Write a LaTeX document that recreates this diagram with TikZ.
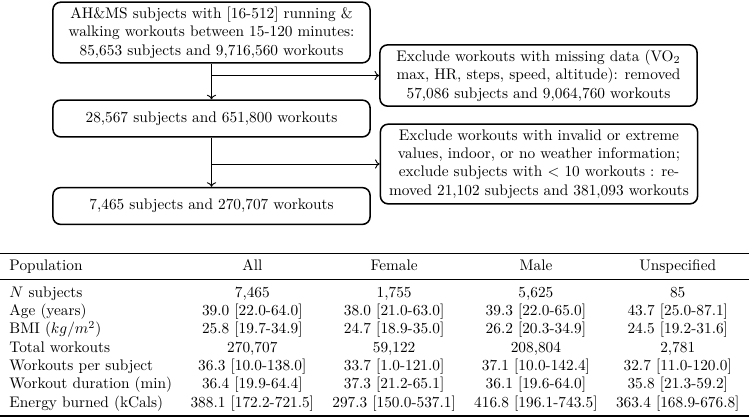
\documentclass[tikz,border=0pt]{standalone}
\usepackage{amsmath}
\usepackage{booktabs}
\usepackage{tikz}
\usetikzlibrary{arrows.meta,positioning}

\begin{document}
\begin{tikzpicture}[
        x=0.6527pt, y=-0.6527pt,
        flowbox/.style={rectangle, draw=black, line width=1pt, rounded corners=5pt, minimum width=207pt, align=center, inner sep=3pt},
        arr/.style={-{To[length=3pt,width=6pt]}, semithick},
    ]
    \useasboundingbox (0,0) rectangle (750,417);

    % flow of subjects and workouts
    \node[flowbox, minimum height=39pt] (b1) at (211.5,32.5) {AH\&MS subjects with [16-512] running \&\\walking workouts between 15-120 minutes:\\85,653 subjects and 9,716,560 workouts};
    \node[flowbox, minimum height=40pt] (e1) at (538.5,75.5) {Exclude workouts with missing data (VO$_2$\\max, HR, steps, speed, altitude): removed\\57,086 subjects and 9,064,760 workouts};
    \node[flowbox, minimum height=24pt] (b2) at (211.5,118.5) {28,567 subjects and 651,800 workouts};
    \node[flowbox, minimum height=52pt] (e2) at (539,164) {Exclude workouts with invalid or extreme\\values, indoor, or no weather information;\\exclude subjects with $<$ 10 workouts : re-\\moved 21,102 subjects and 381,093 workouts};
    \node[flowbox, minimum height=24pt] (b3) at (211.5,206) {7,465 subjects and 270,707 workouts};

    \coordinate (k1) at (b1.south |- e1.west);
    \coordinate (k2) at (b2.south |- e2.west);
    \draw[arr] (b1.south) -- (b2.north);
    \draw[arr] (k1) -- (e1.west);
    \draw[arr] (b2.south) -- (b3.north);
    \draw[arr] (k2) -- (e2.west);

    % summary table
    \node[anchor=south west, inner sep=0pt] (tbl) at (0,417) {%
        \begin{tabular}{lcccc}
            \toprule
            Population & All & Female & Male & Unspecified \\
            \midrule
            $N$ subjects & 7,465 & 1,755 & 5,625 & 85 \\
            Age (years) & 39.0 [22.0-64.0] & 38.0 [21.0-63.0] & 39.3 [22.0-65.0] & 43.7 [25.0-87.1] \\
            BMI ($kg/m^2$) & 25.8 [19.7-34.9] & 24.7 [18.9-35.0] & 26.2 [20.3-34.9] & 24.5 [19.2-31.6] \\
            Total workouts & 270,707 & 59,122 & 208,804 & 2,781 \\
            Workouts per subject & 36.3 [10.0-138.0] & 33.7 [1.0-121.0] & 37.1 [10.0-142.4] & 32.7 [11.0-120.0] \\
            Workout duration (min) & 36.4 [19.9-64.4] & 37.3 [21.2-65.1] & 36.1 [19.6-64.0] & 35.8 [21.3-59.2] \\
            Energy burned (kCals) & 388.1 [172.2-721.5] & 297.3 [150.0-537.1] & 416.8 [196.1-743.5] & 363.4 [168.9-676.8] \\
            \bottomrule
        \end{tabular}};
\end{tikzpicture}
\end{document}
